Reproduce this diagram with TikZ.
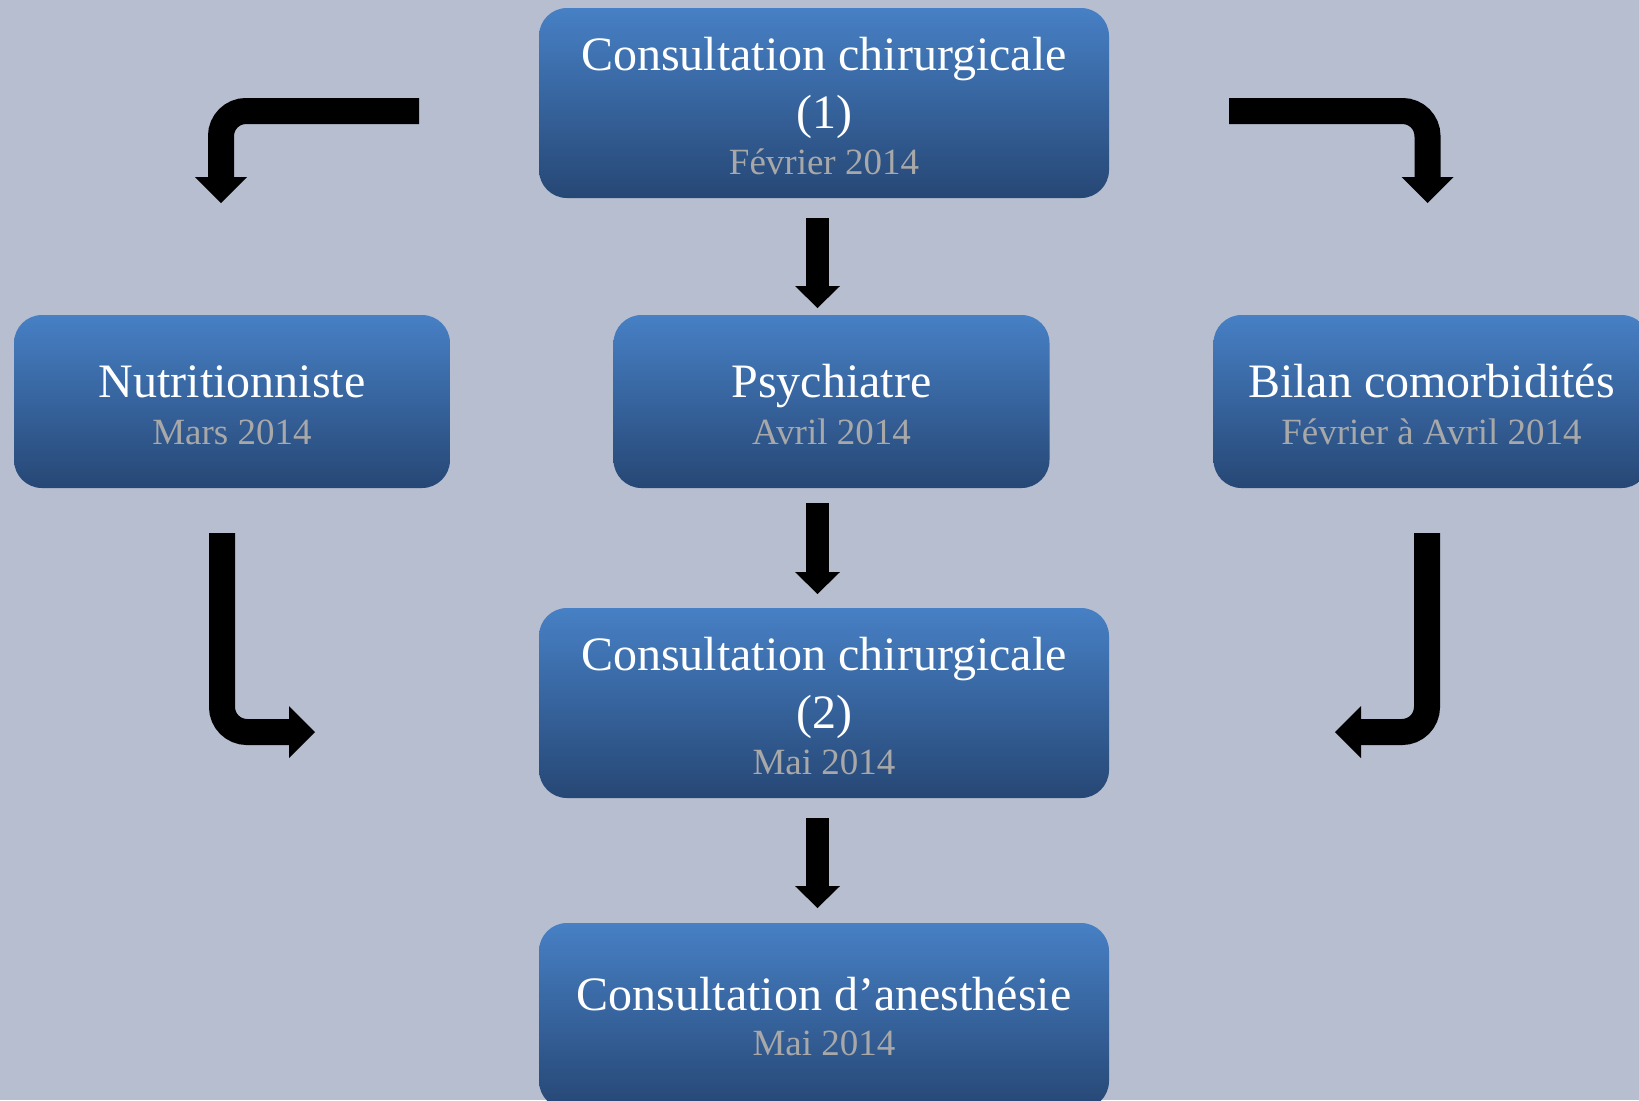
\documentclass[tikz,border=0pt]{standalone}
\usepackage{fontspec}
\setmainfont{Liberation Serif}
\usetikzlibrary{arrows.meta}
\definecolor{bgc}{RGB}{182,190,208}
\definecolor{boxtop}{RGB}{71,128,197}
\definecolor{boxbot}{RGB}{38,71,117}
\definecolor{dategray}{RGB}{168,168,168}
\newcommand{\dtline}[1]{{\fontsize{18.5pt}{24pt}\selectfont\color{dategray}#1}}
\newcommand{\topstrut}{\rule{0pt}{19.8pt}}
\begin{document}
\begin{tikzpicture}[x=0.5pt,y=-0.5pt,
  box/.style={rounded corners=14pt, top color=boxtop, bottom color=boxbot, draw=none,
    text=white, align=center, inner sep=0pt, font=\fontsize{24pt}{24pt}\selectfont},
  widebox/.style={minimum width=285pt, minimum height=95pt},
  smallbox/.style={minimum width=218pt, minimum height=86.5pt},
  downarrow/.style={draw=black, line width=11.5pt,
    -{Triangle[width=22.5pt,length=11pt,line width=0pt]}},
  bentarrow/.style={draw=black, line width=13pt, rounded corners=12.5pt,
    -{Triangle[width=26pt,length=13pt,line width=0pt]}}
]
\clip (0,0) rectangle (1639,1100);
\fill[bgc] (0,0) rectangle (1639,1100);

% boxes
\node[box,widebox] (c1) at (824,103) {\topstrut Consultation chirurgicale\\[5pt](1)\\[-0.75pt]\dtline{Février 2014}};
\node[box,smallbox] (nutri) at (232,401.5) {\topstrut Nutritionniste\\[-0.5pt]\dtline{Mars 2014}};
\node[box,smallbox] (psy) at (831.5,401.5) {\topstrut Psychiatre\\[-0.5pt]\dtline{Avril 2014}};
\node[box,smallbox] (bilan) at (1431.5,401.5) {\topstrut Bilan comorbidités\\[-0.5pt]\dtline{Février à Avril 2014}};
\node[box,widebox] (c2) at (824,703) {\topstrut Consultation chirurgicale\\[5pt](2)\\[-0.75pt]\dtline{Mai 2014}};
\node[box,widebox,minimum height=93pt] (anest) at (824,1016) {Consultation d’anesthésie\\[-1.5pt]\dtline{Mai 2014}};

% connector end points
\coordinate (d1s) at (817.5,218);  \coordinate (d1e) at (817.5,308);
\coordinate (d2s) at (817.5,503);  \coordinate (d2e) at (817.5,594);
\coordinate (d3s) at (817.5,818);  \coordinate (d3e) at (817.5,908);
\coordinate (tls) at (419,111);    \coordinate (tlc) at (221,111);    \coordinate (tle) at (221,203);
\coordinate (trs) at (1229,111);   \coordinate (trc) at (1427.5,111); \coordinate (tre) at (1427.5,203);
\coordinate (bls) at (222,533);    \coordinate (blc) at (222,732);    \coordinate (ble) at (315,732);
\coordinate (brs) at (1427,533);   \coordinate (brc) at (1427,732);   \coordinate (bre) at (1335,732);

% arrows
\draw[downarrow] (d1s) -- (d1e);
\draw[downarrow] (d2s) -- (d2e);
\draw[downarrow] (d3s) -- (d3e);
\draw[bentarrow] (tls) -- (tlc) -- (tle);
\draw[bentarrow] (trs) -- (trc) -- (tre);
\draw[bentarrow] (bls) -- (blc) -- (ble);
\draw[bentarrow] (brs) -- (brc) -- (bre);
\end{tikzpicture}
\end{document}
